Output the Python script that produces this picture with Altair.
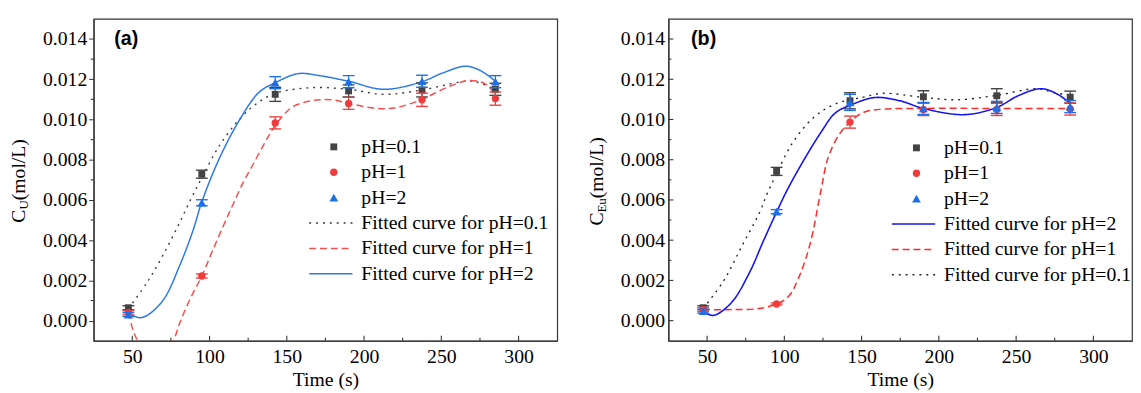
import altair as alt
import pandas as pd

FONT = "Liberation Serif"
W, H = 471, 327
XDOM = [25, 325]
YDOM = [-0.001, 0.015]

# ---------------- data ----------------
time_s = [47.5, 95, 142.5, 190, 237.5, 285]
x_major = [50, 100, 150, 200, 250, 300]
x_minor = [75, 125, 175, 225, 275]
y_major = [0.0, 0.002, 0.004, 0.006, 0.008, 0.010, 0.012, 0.014]
y_minor = [0.001, 0.003, 0.005, 0.007, 0.009, 0.011, 0.013]

# panel (a) measured points (U)
a_y01 = [0.00064, 0.00728, 0.01125, 0.01142, 0.01147, 0.0115]
a_e01 = [0.0001, 0.0002, 0.00035, 0.0003, 0.00035, 0.0003]
a_y1 = [0.00039, 0.00222, 0.00983, 0.0108, 0.01098, 0.01104]
a_e1 = [0.0001, 0.0001, 0.0003, 0.0003, 0.00033, 0.00033]
a_y2 = [0.0003, 0.00586, 0.01183, 0.01188, 0.0119, 0.01188]
a_e2 = [0.0001, 0.00015, 0.0003, 0.0003, 0.0003, 0.0003]

# panel (a) fitted curves
a_fit01_x = [47.5, 59.6, 70.2, 80.8, 88.3, 95, 106.4, 119.2, 129.8, 142.5, 166, 190, 212.8, 237.5, 261.8, 270.3, 285]
a_fit01_y = [0.0006, 0.0019, 0.0033, 0.0049, 0.0061, 0.0071, 0.0087, 0.0100, 0.01075, 0.0113, 0.01158, 0.0115,
             0.01125, 0.01147, 0.01186, 0.01191, 0.0115]
a_fit1_x = [47.5, 51, 53.6, 60, 65, 70, 76.6, 80.8, 87.2, 95, 102.1, 110.6, 115.9, 122, 127.7, 136.2, 142.5, 153.2,
            166, 178.7, 190, 208.5, 221.3, 237.5, 253.2, 268, 278.8, 285]
a_fit1_y = [0.0004, -0.00059, -0.001, -0.0016, -0.0019, -0.0017, -0.001, -0.0001, 0.00104, 0.00222, 0.0035, 0.0050,
            0.0059, 0.0069, 0.0077, 0.0089, 0.0097, 0.0106, 0.01093, 0.01098, 0.0108, 0.01055, 0.0106, 0.0110,
            0.01158, 0.01194, 0.01175, 0.0112]
a_fit2_x = [47.5, 54.2, 59.6, 70.2, 80.8, 89.3, 95, 106.4, 119.2, 131.9, 142.5, 157.5, 170.3, 190, 212.8, 237.5,
            251.1, 266, 276, 285]
a_fit2_y = [0.0004, 0.00015, 0.00026, 0.00104, 0.00276, 0.00448, 0.0059, 0.00807, 0.00995, 0.01134, 0.01183,
            0.01228, 0.01219, 0.0119, 0.0115, 0.01188, 0.01232, 0.01265, 0.0124, 0.0119]

# panel (b) measured points (Eu)
b_y01 = [0.00064, 0.00742, 0.01093, 0.01113, 0.01118, 0.01111]
b_e01 = [0.0001, 0.0002, 0.0004, 0.0003, 0.00035, 0.0003]
b_y1 = [0.00055, 0.00083, 0.00987, 0.0105, 0.0105, 0.01052]
b_e1 = [0.0001, 0.00005, 0.0003, 0.0003, 0.0003, 0.0003]
b_y2 = [0.00047, 0.00542, 0.01085, 0.01055, 0.0106, 0.01064]
b_e2 = [0.0001, 0.0001, 0.0004, 0.0003, 0.0003, 0.0003]

# panel (b) fitted curves
b_fit2_x = [47.5, 54, 65.6, 77.2, 86.4, 95, 101.5, 112, 123.6, 132.9, 142.5, 158.4, 174.7, 190, 216.5, 237.5,
            251.3, 266.3, 276.9, 285]
b_fit2_y = [0.00047, 0.00026, 0.00088, 0.00235, 0.00395, 0.0054, 0.00644, 0.0079, 0.00935, 0.01032, 0.0107,
            0.01109, 0.01093, 0.01055, 0.01024, 0.0106, 0.01118, 0.01153, 0.01125, 0.0108]
b_fit1_x = [47.5, 65.6, 83.5, 95, 102.7, 109.6, 116.7, 123.6, 128.2, 135.2, 142.5, 151.5, 165.4, 190, 237.5, 285]
b_fit1_y = [0.00055, 0.00055, 0.0006, 0.00083, 0.0012, 0.00219, 0.00382, 0.00644, 0.00807, 0.00922, 0.00987,
            0.01036, 0.01052, 0.01055, 0.01055, 0.01055]
b_fit01_x = [47.5, 60.9, 72.5, 84.1, 88.8, 95, 105, 119, 132.9, 150.6, 163.4, 190, 211.8, 237.5, 263, 274.5, 285]
b_fit01_y = [0.0006, 0.0020, 0.0037, 0.0054, 0.0063, 0.0073, 0.0088, 0.0101, 0.01077, 0.0111, 0.0113, 0.0111,
             0.01098, 0.0112, 0.01153, 0.01134, 0.0112]

legend_pts = ["pH=0.1", "pH=1", "pH=2"]

# ---------------- styles ----------------
GRAY = "#434343"
RED = "#f03c3c"
BLUE = "#1c6fe6"
AXC = "#333333"

xscale = alt.Scale(domain=XDOM, nice=False, zero=False)
yscale = alt.Scale(domain=YDOM, nice=False, zero=False)
xaxis = alt.Axis(values=x_major, ticks=False, labelPadding=6, title="Time (s)", titlePadding=3,
                 grid=False, labelFlush=False)


def yaxis(outward):
    if outward:
        return alt.Axis(values=y_major, format=".3f", ticks=True, tickSize=5, labelPadding=2,
                        title=None, grid=False, labelFlush=False)
    return alt.Axis(values=y_major, format=".3f", ticks=False, labelPadding=4,
                    title=None, grid=False, labelFlush=False)


one = pd.DataFrame({"k": [0]})


def panel(tag, sub, pts, curves, legend_lines, outward, ytitle_x, ytitle_start, leg_x0, leg_y0, tag_x):
    ya = yaxis(outward)
    X = lambda f: alt.X(f, type="quantitative", scale=xscale, axis=xaxis)
    Y = lambda f: alt.Y(f, type="quantitative", scale=yscale, axis=ya)
    layers = []
    # fitted curves
    for cx, cy, color, dash, sw in curves:
        df = pd.DataFrame({"x": cx, "y": cy})
        layers.append(alt.Chart(df).mark_line(clip=True, interpolate="catmull-rom", color=color,
                                              strokeDash=dash, strokeWidth=sw).encode(x=X("x"), y=Y("y")))
    # error bars and points
    for ys, es, color, shape, size in pts:
        df = pd.DataFrame({"x": time_s, "y": ys,
                           "lo": [v - e for v, e in zip(ys, es)],
                           "hi": [v + e for v, e in zip(ys, es)]})
        base = alt.Chart(df)
        layers.append(base.mark_rule(color=color, strokeWidth=1.2).encode(x=X("x"), y=Y("lo"), y2="hi"))
        layers.append(base.mark_tick(orient="horizontal", size=12, thickness=1.4, color=color, opacity=1)
                      .encode(x=X("x"), y=Y("lo")))
        layers.append(base.mark_tick(orient="horizontal", size=12, thickness=1.4, color=color, opacity=1)
                      .encode(x=X("x"), y=Y("hi")))
        layers.append(base.mark_point(shape=shape, filled=True, size=size, color=color, opacity=1)
                      .encode(x=X("x"), y=Y("y")))
    # inward x ticks
    layers.append(alt.Chart(pd.DataFrame({"v": x_major})).mark_rule(color=AXC, strokeWidth=1.1)
                  .encode(x=X("v"), y=alt.value(H), y2=alt.value(H - 5)))
    layers.append(alt.Chart(pd.DataFrame({"v": x_minor})).mark_rule(color=AXC, strokeWidth=1.1)
                  .encode(x=X("v"), y=alt.value(H), y2=alt.value(H - 3)))
    # y minor ticks (and inward major ticks for panel b)
    if outward:
        layers.append(alt.Chart(pd.DataFrame({"v": y_minor})).mark_rule(color=AXC, strokeWidth=1.1)
                      .encode(y=Y("v"), x=alt.value(0), x2=alt.value(-3)))
    else:
        layers.append(alt.Chart(pd.DataFrame({"v": y_major})).mark_rule(color=AXC, strokeWidth=1.1)
                      .encode(y=Y("v"), x=alt.value(0), x2=alt.value(5)))
        layers.append(alt.Chart(pd.DataFrame({"v": y_minor})).mark_rule(color=AXC, strokeWidth=1.1)
                      .encode(y=Y("v"), x=alt.value(0), x2=alt.value(3)))
    # legend
    step = 25.8
    sym_x = leg_x0 + 25
    txt_x = leg_x0 + 53
    for i, (label, (ys, es, color, shape, size)) in enumerate(zip(legend_pts, pts)):
        yy = leg_y0 + i * step
        layers.append(alt.Chart(one).mark_point(shape=shape, filled=True, size=size, color=color, opacity=1)
                      .encode(x=alt.value(sym_x), y=alt.value(yy)))
        layers.append(alt.Chart(one).mark_text(text=label, font=FONT, fontSize=20, align="left",
                                               baseline="middle", color="black")
                      .encode(x=alt.value(txt_x), y=alt.value(yy)))
    for j, (label, color, dash, sw) in enumerate(legend_lines):
        yy = leg_y0 + (3 + j) * step
        layers.append(alt.Chart(one).mark_rule(color=color, strokeDash=dash, strokeWidth=sw)
                      .encode(x=alt.value(leg_x0), x2=alt.value(leg_x0 + 44), y=alt.value(yy)))
        layers.append(alt.Chart(one).mark_text(text=label, font=FONT, fontSize=20, align="left",
                                               baseline="middle", color="black")
                      .encode(x=alt.value(txt_x), y=alt.value(yy)))
    # panel tag
    layers.append(alt.Chart(one).mark_text(text=tag, font="Liberation Sans", fontWeight="bold", fontSize=20,
                                           align="left", baseline="middle", color="black")
                  .encode(x=alt.value(tag_x), y=alt.value(21)))
    # y title with subscript
    c_w = 13.3
    sub_w = 9.4 if sub == "U" else 14.4
    layers.append(alt.Chart(one).mark_text(text="C", font=FONT, fontSize=20, angle=270, align="left",
                                           baseline="middle", color="black")
                  .encode(x=alt.value(ytitle_x), y=alt.value(ytitle_start)))
    layers.append(alt.Chart(one).mark_text(text=sub, font=FONT, fontSize=13, angle=270, align="left",
                                           baseline="middle", color="black")
                  .encode(x=alt.value(ytitle_x + 5), y=alt.value(ytitle_start - c_w)))
    layers.append(alt.Chart(one).mark_text(text="(mol/L)", font=FONT, fontSize=20, angle=270, align="left",
                                           baseline="middle", color="black")
                  .encode(x=alt.value(ytitle_x), y=alt.value(ytitle_start - c_w - sub_w)))
    return alt.layer(*layers).properties(width=W, height=H)


pa = panel(
    "(a)", "U",
    pts=[(a_y01, a_e01, GRAY, "square", 49), (a_y1, a_e1, RED, "circle", 56), (a_y2, a_e2, BLUE, "triangle-up", 80)],
    curves=[(a_fit01_x, a_fit01_y, "#3a3a3a", [2, 5], 1.4),
            (a_fit1_x, a_fit1_y, "#f55050", [7, 4], 1.5),
            (a_fit2_x, a_fit2_y, "#2a79e6", [1, 0], 1.5)],
    legend_lines=[("Fitted curve for pH=0.1", "#3a3a3a", [2, 5], 1.4),
                  ("Fitted curve for pH=1", "#f55050", [7, 4], 1.5),
                  ("Fitted curve for pH=2", "#2a79e6", [1, 0], 1.5)],
    outward=True, ytitle_x=-76, ytitle_start=207, leg_x0=219, leg_y0=130, tag_x=21)

pb = panel(
    "(b)", "Eu",
    pts=[(b_y01, b_e01, GRAY, "square", 49), (b_y1, b_e1, RED, "circle", 56), (b_y2, b_e2, BLUE, "triangle-up", 80)],
    curves=[(b_fit01_x, b_fit01_y, "#222222", [2, 5], 1.4),
            (b_fit1_x, b_fit1_y, "#ff2a2a", [7, 4], 1.5),
            (b_fit2_x, b_fit2_y, "#1414f0", [1, 0], 1.6)],
    legend_lines=[("Fitted curve for pH=2", "#1414f0", [1, 0], 1.6),
                  ("Fitted curve for pH=1", "#ff2a2a", [7, 4], 1.5),
                  ("Fitted curve for pH=0.1", "#222222", [2, 5], 1.4)],
    outward=False, ytitle_x=-72, ytitle_start=210, leg_x0=227, leg_y0=131, tag_x=23)

chart = alt.hconcat(pa, pb, spacing=113, bounds="flush").properties(
    padding={"left": 0, "top": 7, "right": 0, "bottom": 0}
).configure_view(stroke=AXC, strokeWidth=1.2).configure_axis(
    labelFont=FONT, labelFontSize=20, labelColor="black", titleFont=FONT, titleFontSize=20,
    titleFontWeight="normal", titleColor="black", domainColor=AXC, tickColor=AXC, domainWidth=1.2
)

chart.save("out.html", embed_options={"renderer": "svg", "actions": False})
